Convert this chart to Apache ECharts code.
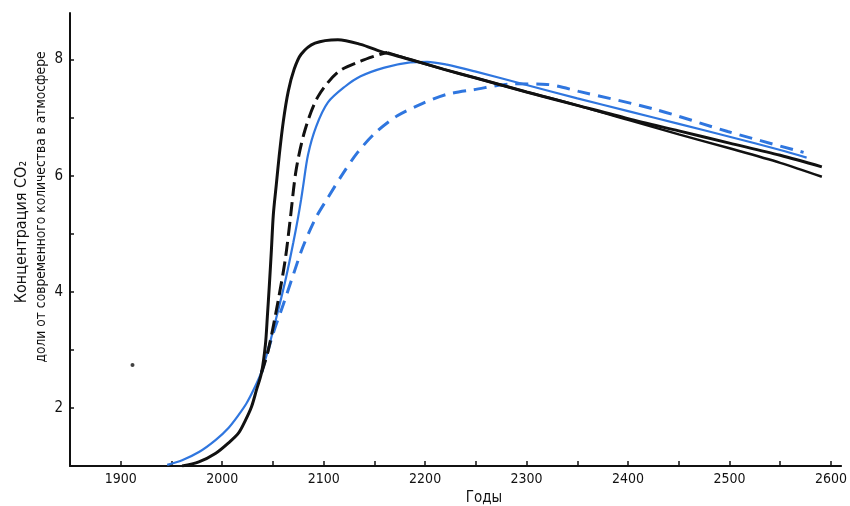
<!DOCTYPE html>
<html>
<head>
<meta charset="utf-8">
<script src="https://cdn.jsdelivr.net/npm/echarts@6/dist/echarts.min.js"></script>
<style>
html,body{margin:0;padding:0;background:#fff;}
#chart{width:850px;height:506px;}
</style>
</head>
<body>
<div id="chart"></div>
<script>
// ---- data ----
const xTickLabels = [1900, 2000, 2100, 2200, 2300, 2400, 2500, 2600];
const yTickLabels = [2, 4, 6, 8];

const blackSolidYears  = [1960.5, 1977, 1993.7, 2006.4, 2016.2, 2023, 2028.9, 2033.8, 2038.7, 2042.6, 2044.5, 2046.5, 2048.5, 2050.4, 2053.3, 2056.3, 2060.2, 2065.1, 2070.9, 2077.8, 2091.5, 2114, 2136.4, 2156, 2185.3, 2218.6, 2250, 2300, 2350, 2400, 2450, 2500, 2550, 2591];
const blackSolidValues = [1.0, 1.07, 1.22, 1.40, 1.57, 1.79, 2.02, 2.31, 2.60, 3.09, 3.57, 4.12, 4.72, 5.33, 5.84, 6.36, 6.93, 7.45, 7.83, 8.09, 8.28, 8.34, 8.26, 8.14, 8.0, 7.83, 7.68, 7.44, 7.21, 6.98, 6.77, 6.56, 6.35, 6.15];

const blackDashedYears  = [2038.7, 2045.5, 2055.3, 2062.1, 2067, 2072.9, 2081.7, 2094.4, 2114, 2136.4, 2156, 2162.8];
const blackDashedValues = [2.60, 3.0, 3.86, 4.55, 5.24, 6.10, 6.79, 7.36, 7.78, 7.97, 8.09, 8.12];

const blackTailYears  = [2162.8, 2185.3, 2218.6, 2250, 2300, 2350, 2400, 2450, 2500, 2550, 2591];
const blackTailValues = [8.12, 8.0, 7.83, 7.68, 7.44, 7.21, 6.96, 6.71, 6.47, 6.22, 5.98];

const blueSolidYears  = [1945.8, 1960.5, 1977.1, 1993.7, 2006.4, 2016.2, 2024, 2032, 2038.7, 2045.5, 2055.3, 2063.1, 2070, 2074.9, 2077.8, 2079.7, 2084.6, 2092.5, 2104.2, 2120.8, 2136.4, 2159.9, 2185.3, 2202, 2221.5, 2250, 2300, 2350, 2400, 2450, 2500, 2550, 2576];
const blueSolidValues = [1.02, 1.10, 1.24, 1.45, 1.66, 1.88, 2.08, 2.35, 2.62, 3.02, 3.69, 4.26, 4.84, 5.29, 5.59, 5.81, 6.36, 6.84, 7.26, 7.53, 7.71, 7.86, 7.95, 7.96, 7.91, 7.79, 7.56, 7.33, 7.11, 6.89, 6.67, 6.44, 6.31];

const blueDashedYears  = [2038.7, 2050.4, 2060.2, 2070, 2079.7, 2092.5, 2104.2, 2118.8, 2133.5, 2151.1, 2172.6, 2197.1, 2221.5, 2247.9, 2287, 2320, 2351.5, 2426.8, 2498.2, 2573];
const blueDashedValues = [2.60, 3.29, 3.78, 4.29, 4.78, 5.28, 5.62, 6.03, 6.40, 6.74, 7.03, 7.24, 7.40, 7.48, 7.58, 7.57, 7.45, 7.14, 6.76, 6.40];

const dotYears  = [1911.6];
const dotValues = [2.74];

function zip(xs, ys) { return xs.map((x, i) => [x, ys[i]]); }

const FONT = "'DejaVu Sans Condensed', 'DejaVu Sans', sans-serif";
const BLUE = '#2f76df';
const BLACK = '#111111';

const chart = echarts.init(document.getElementById('chart'), null, {renderer: 'canvas'});
chart.setOption({
  animation: false,
  backgroundColor: '#ffffff',
  grid: {left: 70, right: 2, top: 13, bottom: 40, containLabel: false},
  xAxis: {
    type: 'value', min: 1850, max: 2610, interval: 50,
    axisLine: {show: true, onZero: false, lineStyle: {color: BLACK, width: 2}},
    axisTick: {show: true, inside: true, length: 5, lineStyle: {color: BLACK, width: 1.5}},
    axisLabel: {
      color: BLACK, fontFamily: FONT, fontSize: 14, margin: 6,
      showMaxLabel: false,
      formatter: v => (xTickLabels.indexOf(v) >= 0 ? String(v) : '')
    },
    splitLine: {show: false}
  },
  yAxis: {
    type: 'value', min: 1, max: 8.8, interval: 1,
    axisLine: {show: true, onZero: false, lineStyle: {color: BLACK, width: 2}},
    axisTick: {show: true, inside: true, length: 4, lineStyle: {color: BLACK, width: 1.5}},
    axisLabel: {
      color: BLACK, fontFamily: FONT, fontSize: 15, margin: 7,
      showMaxLabel: false,
      formatter: v => (yTickLabels.indexOf(v) >= 0 ? String(v) : '')
    },
    splitLine: {show: false}
  },
  graphic: [
    {type: 'text', x: 22, y: 232, rotation: Math.PI / 2,
     style: {text: 'Концентрация CO₂', fill: BLACK, font: "16px " + FONT, align: 'center', verticalAlign: 'middle'}},
    {type: 'text', x: 41, y: 207, rotation: Math.PI / 2,
     style: {text: 'доли от современного количества в атмосфере', fill: BLACK, font: "13.7px " + FONT, align: 'center', verticalAlign: 'middle'}},
    {type: 'text', x: 484, y: 498,
     style: {text: 'Годы', fill: BLACK, font: "15px " + FONT, align: 'center', verticalAlign: 'middle'}}
  ],
  series: [
    {type: 'line', name: 'blueDashed', data: zip(blueDashedYears, blueDashedValues), smooth: 0.3,
     showSymbol: false, lineStyle: {color: BLUE, width: 3, type: [13, 8]}},
    {type: 'line', name: 'blueSolid', data: zip(blueSolidYears, blueSolidValues), smooth: 0.3,
     showSymbol: false, lineStyle: {color: BLUE, width: 2.2}},
    {type: 'line', name: 'blackDashed', data: zip(blackDashedYears, blackDashedValues), smooth: 0.3,
     showSymbol: false, lineStyle: {color: BLACK, width: 3, type: [14, 6]}},
    {type: 'line', name: 'blackTail', data: zip(blackTailYears, blackTailValues), smooth: 0.3,
     showSymbol: false, lineStyle: {color: BLACK, width: 2.5}},
    {type: 'line', name: 'blackSolid', data: zip(blackSolidYears, blackSolidValues), smooth: 0.3,
     showSymbol: false, lineStyle: {color: BLACK, width: 3}},
    {type: 'scatter', name: 'dot', data: zip(dotYears, dotValues), symbolSize: 4,
     itemStyle: {color: BLACK}}
  ]
});
</script>
</body>
</html>
